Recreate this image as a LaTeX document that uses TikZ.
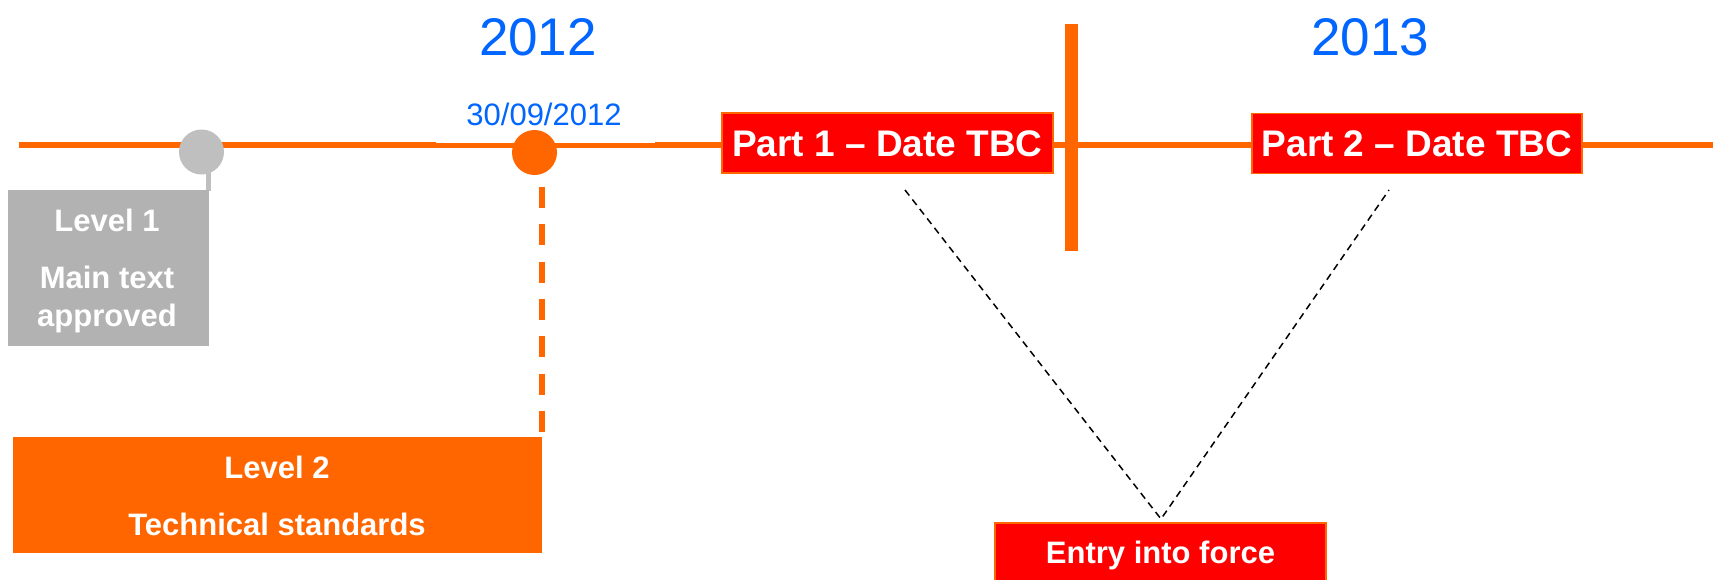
\documentclass[tikz,border=0pt]{standalone}
\usepackage{fontspec}
\setmainfont{Liberation Sans}
\definecolor{tlorange}{HTML}{FF6600}
\definecolor{tlred}{HTML}{FF0000}
\definecolor{tlblue}{HTML}{0066FF}
\definecolor{tlgrey}{HTML}{B2B2B2}
\definecolor{tllight}{HTML}{BFBFBF}
\begin{document}
\begin{tikzpicture}[x=0.5pt,y=-0.5pt,
  every node/.style={inner sep=0pt,outer sep=0pt},
  year/.style={text=tlblue,font=\fontsize{26.5}{30}\selectfont,anchor=base},
  datelbl/.style={text=tlblue,font=\fontsize{15.5}{18}\selectfont,anchor=base},
  boxtxt/.style={text=white,font=\bfseries\fontsize{15.5}{18}\selectfont,anchor=base},
  partbox/.style={fill=tlred,draw=tlorange,line width=0.85pt,text=white,
    font=\bfseries\fontsize{18.5}{22}\selectfont,text height=13.2pt,text depth=0pt,
    minimum height=30pt},
  entrybox/.style={fill=tlred,draw=tlorange,line width=0.85pt,text=white,
    font=\bfseries\fontsize{15.5}{18}\selectfont,text height=11.1pt,text depth=0pt,
    minimum width=165.5pt,minimum height=29pt},
  timeline/.style={draw=tlorange,line width=3pt},
  link/.style={draw=black,line width=0.75pt,dash pattern=on 3.5pt off 2.5pt}
]
\clip (0,0) rectangle (1713,579);
\fill[white] (0,0) rectangle (1713,579);

% main time line
\coordinate (tstart) at (19,145);
\coordinate (tend) at (1713,145);
\draw[timeline] (tstart) -- (tend);
% white strip behind the date label
\fill[white] (436,141) rectangle (655,143.3);

% year headings
\node[year] (y2012) at (538,55) {2012};
\node[year] (y2013) at (1370,55) {2013};

% year separator
\coordinate (sepT) at (1071.5,24);
\coordinate (sepB) at (1071.5,251);
\draw[draw=tlorange,line width=6.5pt] (sepT) -- (sepB);

% milestone 1 (grey)
\fill[tllight] (206,172) rectangle (211,191);
\node[circle,fill=tllight,minimum size=22.5pt] (m1) at (201.5,152) {};
\node[fill=tlgrey,minimum width=100.5pt,minimum height=78pt] (lvl1) at (108.5,268) {};
\node[boxtxt] (lvl1a) at (107,231) {Level 1};
\node[boxtxt] (lvl1b) at (107,288) {Main text};
\node[boxtxt] (lvl1c) at (107,326) {approved};

% milestone 2 (orange)
\node[datelbl] (date) at (544,125) {30/09/2012};
\node[circle,fill=tlorange,minimum size=22.5pt] (m2) at (534.5,152.5) {};
\node[fill=tlorange,minimum width=264.5pt,minimum height=58pt] (lvl2) at (277.5,495) {};
\coordinate (d2top) at (542,187);
\coordinate (d2bot) at (542,432);
\draw[draw=tlorange,line width=3pt,dash pattern=on 10.5pt off 8.15pt] (d2top) -- (d2bot);
\node[boxtxt] (lvl2a) at (277,478) {Level 2};
\node[boxtxt] (lvl2b) at (277,535) {Technical standards};

% parts
\node[partbox,minimum width=165.5pt] (part1) at (887.5,143) {Part 1 – Date TBC};
\node[partbox,minimum width=165pt] (part2) at (1417,143.5) {Part 2 – Date TBC};

% entry into force
\node[entrybox] (entry) at (1160.5,552) {Entry into force};
\coordinate (apex) at (1161,519);
\coordinate (p1foot) at (905,190);
\coordinate (p2foot) at (1389,190);
\draw[link] (p1foot) -- (apex) -- (p2foot);
\end{tikzpicture}
\end{document}
